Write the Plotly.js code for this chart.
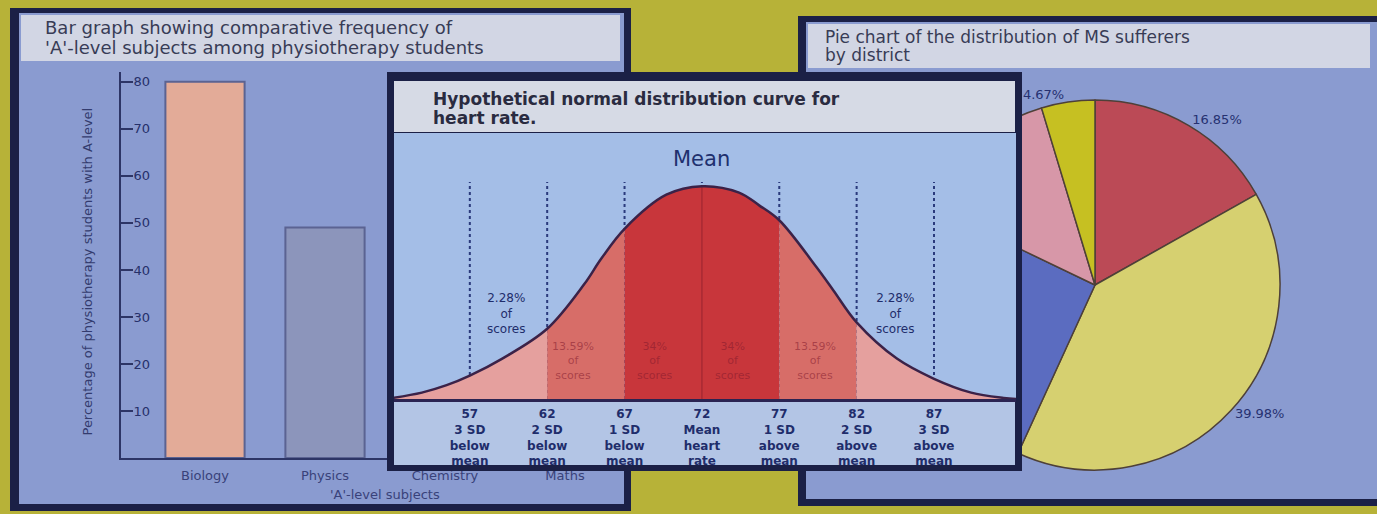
<!DOCTYPE html>
<html>
<head>
<meta charset="utf-8">
<script src="https://cdn.plot.ly/plotly-3.0.1.min.js"></script>
<style>
  html, body { margin: 0; padding: 0; background: #b7b238; width: 1377px; height: 514px; overflow: hidden; }
  #main { position: absolute; left: 0; top: 0; width: 1377px; height: 514px; }
  #normal { position: absolute; left: 387px; top: 72px; width: 635px; height: 399px; z-index: 5; }
</style>
</head>
<body>
<div id="main"></div>
<div id="normal"></div>
<script>
// ---------------- DATA ----------------
// Bar chart: A-level subjects among physiotherapy students
const subjects = ['Biology', 'Physics', 'Chemistry', 'Maths'];
const subjectPct = [80, 49, 44, 37];
const barTickVals = [10, 20, 30, 40, 50, 60, 70, 80];

// Pie chart: distribution of MS sufferers by district
const districts = ['District A', 'District B', 'District C', 'District D', 'District E'];
const districtPct = [16.85, 39.98, 25.30, 13.20, 4.67];

// Normal distribution of heart rate (peak = 100)
const curveX = [52, 53.9, 55.5, 57, 59.1, 62, 64.4, 65.5, 67, 69.7, 72, 74.4, 75.7, 77, 79.4, 80.5, 82, 84.6, 87, 89.4, 91.5, 92.3];
const curveY = [0.5, 3, 6.5, 11, 19, 33, 54, 66, 80, 96, 100, 97, 91, 84, 62, 51, 36, 19, 9.5, 3, 0.5, 0];
const sdVals = [57, 62, 67, 72, 77, 82, 87];
const sdDesc = ['3 SD<br>below<br>mean', '2 SD<br>below<br>mean', '1 SD<br>below<br>mean', 'Mean<br>heart<br>rate',
                '1 SD<br>above<br>mean', '2 SD<br>above<br>mean', '3 SD<br>above<br>mean'];
const bandEdges = [52, 62, 67, 77, 82, 92.3];
const bandLabels = ['13.59%<br>of<br>scores', '34%<br>of<br>scores', '34%<br>of<br>scores', '13.59%<br>of<br>scores'];
const bandLabelX = [63.7, 69.0, 74.0, 79.3];
const tailLabels = ['2.28%<br>of<br>scores', '2.28%<br>of<br>scores'];
const tailLabelX = [59.4, 84.5];

// Panel titles (one entry per printed line)
const barTitle = ['Bar graph showing comparative frequency of', '\'A\'-level subjects among physiotherapy students'];
const normalTitle = ['Hypothetical normal distribution curve for', 'heart rate.'];
const pieTitle = ['Pie chart of the distribution of MS sufferers', 'by district'];

// ---------------- STYLE ----------------
const FONT = 'DejaVu Sans, Arial, sans-serif';
const NAVY = '#26306a';
const FRAME = '#1b2046';
const PANEL = '#8a9bd0';
const STRIP = '#d2d6e4';

// ---------- MAIN (bar + pie panels) ----------
const W1 = 1377, H1 = 514;
const fx = x => x / W1, fy = y => 1 - y / H1;
function rect(x0, y0, x1, y1, color) {
  return {type: 'rect', xref: 'paper', yref: 'paper', x0: fx(x0), x1: fx(x1), y0: fy(y1), y1: fy(y0),
          fillcolor: color, line: {width: 0}, layer: 'below'};
}
function titleLine(text, x, y, size, conv, color, bold) {
  return {xref: 'paper', yref: 'paper', x: conv[0](x), y: conv[1](y), xanchor: 'left', yanchor: 'middle',
          showarrow: false, text: text,
          font: {family: FONT, size: size, color: color || '#383c56', weight: bold ? 'bold' : 'normal'}};
}

const barTrace = {
  type: 'bar', x: subjects, y: subjectPct, width: 0.66,
  marker: {color: ['#e3ab98', '#8c95bb', '#9aa3c6', '#a0a8cc'], line: {color: '#5b6392', width: 2}},
  hoverinfo: 'x+y', showlegend: false
};

const pieTrace = {
  type: 'pie', values: districtPct, labels: districts, sort: false, direction: 'clockwise', rotation: 0,
  domain: {x: [fx(910), fx(1280)], y: [fy(470), fy(100)]},
  marker: {colors: ['#bb4a56', '#d6d070', '#5b6cc0', '#d797a8', '#c6c022'], line: {color: '#4e4038', width: 1.5}},
  textposition: 'outside', texttemplate: '%{value:.2f}%',
  outsidetextfont: {family: FONT, size: 13, color: '#263170'},
  showlegend: false, hoverinfo: 'label+percent'
};

const conv1 = [fx, fy];
const mainLayout = {
  width: W1, height: H1, margin: {l: 0, r: 0, t: 0, b: 0},
  paper_bgcolor: '#b7b238', plot_bgcolor: 'rgba(0,0,0,0)', showlegend: false,
  xaxis: {domain: [fx(121), fx(625)], range: [-0.7, 3.5], type: 'category', showgrid: false, zeroline: false,
          showline: true, linecolor: '#2d3566', linewidth: 2, ticks: 'outside', ticklen: 4, tickcolor: 'rgba(0,0,0,0)',
          tickfont: {family: FONT, size: 13, color: '#39427a'}, fixedrange: true},
  yaxis: {domain: [fy(458), fy(72)], range: [0, 82.1], showgrid: false, zeroline: false,
          showline: true, linecolor: '#2d3566', linewidth: 2, ticks: 'inside', ticklen: 12, tickwidth: 2,
          tickcolor: '#2d3566', tickvals: barTickVals, ticklabelposition: 'inside',
          tickfont: {family: FONT, size: 13, color: NAVY}, fixedrange: true},
  shapes: [
    rect(10, 8, 631, 511, FRAME),
    rect(19, 13, 624, 504, PANEL),
    rect(21, 15, 620, 61, STRIP),
    rect(798, 16, 1377, 506, FRAME),
    rect(806, 22, 1377, 499, PANEL),
    rect(808, 24, 1370, 68, STRIP)
  ],
  annotations: [
    titleLine(barTitle[0], 43, 27, 18, conv1),
    titleLine(barTitle[1], 43, 47, 18, conv1),
    titleLine(pieTitle[0], 823, 37, 17, conv1),
    titleLine(pieTitle[1], 823, 55, 17, conv1),
    {xref: 'paper', yref: 'paper', x: fx(77), y: fy(272), textangle: -90, showarrow: false,
     text: 'Percentage of physiotherapy students with A-level',
     font: {family: FONT, size: 13, color: '#333b6e'}},
    {xref: 'paper', yref: 'paper', x: fx(328), y: fy(494), yanchor: 'middle', showarrow: false,
     text: '\'A\'-level subjects', font: {family: FONT, size: 13, color: '#39427a'}}
  ]
};

Plotly.newPlot('main', [barTrace, pieTrace], mainLayout, {staticPlot: true, displayModeBar: false});

// ---------- NORMAL CURVE PANEL (overlapping) ----------
// plot area inside this panel: x 7..629, y 61..327 (local pixels)
const W2 = 635, H2 = 399;
const PL = 7, PR = 629, PT = 61, PB = 327;
const gx = x => (x - PL) / (PR - PL), gy = y => 1 - (y - PT) / (PB - PT);
function rect2(x0, y0, x1, y1, color) {
  return {type: 'rect', xref: 'paper', yref: 'paper', x0: gx(x0), x1: gx(x1), y0: gy(y1), y1: gy(y0),
          fillcolor: color, line: {width: 0}, layer: 'below'};
}

const dotX = [], dotY = [];
sdVals.forEach(v => { dotX.push(v, v, null); dotY.push(0, 102, null); });
const traces2 = [{
  type: 'scatter', mode: 'lines', x: dotX, y: dotY,
  line: {color: '#2a3a7c', width: 2, dash: 'dot'}, hoverinfo: 'skip', showlegend: false
}];

const bandColors = ['#e5a09e', '#d76d68', '#c8363b', '#d76d68', '#e5a09e'];
for (let i = 0; i < bandEdges.length - 1; i++) {
  const a = bandEdges[i], b = bandEdges[i + 1];
  const bx = [], by = [];
  curveX.forEach((x, k) => { if (x >= a && x <= b) { bx.push(x); by.push(curveY[k]); } });
  traces2.push({type: 'scatter', mode: 'lines', x: bx, y: by, fill: 'tozeroy', fillcolor: bandColors[i],
                line: {width: 0, shape: 'spline'}, hoverinfo: 'skip', showlegend: false});
}
const meanIdx = curveX.indexOf(sdVals[3]);
traces2.push({type: 'scatter', mode: 'lines', x: [sdVals[3], sdVals[3]], y: [0, curveY[meanIdx]],
              line: {color: '#a82a33', width: 1.5}, hoverinfo: 'skip', showlegend: false});
traces2.push({type: 'scatter', mode: 'lines', x: curveX, y: curveY,
              line: {color: '#3b2248', width: 2.5, shape: 'spline'}, hoverinfo: 'x+y', showlegend: false});

const conv2 = [gx, gy];
const ann2 = [
  titleLine(normalTitle[0], 44, 27, 17, conv2, '#2a2b40', true),
  titleLine(normalTitle[1], 44, 46, 17, conv2, '#2a2b40', true),
  {x: sdVals[3], y: 113, xref: 'x', yref: 'y', showarrow: false, text: 'Mean',
   font: {family: FONT, size: 21, color: '#20306e'}}
];
tailLabels.forEach((t, i) => ann2.push({x: tailLabelX[i], y: 40, xref: 'x', yref: 'y', showarrow: false, text: t,
  font: {family: FONT, size: 12, color: '#1f2d6b'}}));
bandLabels.forEach((t, i) => ann2.push({x: bandLabelX[i], y: 18, xref: 'x', yref: 'y', showarrow: false, text: t,
  font: {family: FONT, size: 11, color: 'rgba(130,25,45,0.55)'}}));

const layout2 = {
  width: W2, height: H2, margin: {l: PL, r: W2 - PR, t: PT, b: H2 - PB},
  paper_bgcolor: FRAME, plot_bgcolor: '#a4bee7', showlegend: false,
  xaxis: {range: [52.1, 92.3], showgrid: false, zeroline: false, showline: true, linecolor: '#2b2452', linewidth: 3,
          tickvals: sdVals, ticktext: sdVals.map((v, i) => v + '<br>' + sdDesc[i]),
          ticks: 'outside', ticklen: 2, tickcolor: 'rgba(0,0,0,0)',
          tickfont: {family: FONT, size: 12, color: '#1f2d6b', weight: 'bold'}, fixedrange: true},
  yaxis: {range: [0, 125], visible: false, fixedrange: true},
  shapes: [
    rect2(7, 9, 628, 60, '#d6dae5'),
    rect2(7, 329, 628, 393, '#b3c5e5')
  ],
  annotations: ann2
};

Plotly.newPlot('normal', traces2, layout2, {staticPlot: true, displayModeBar: false});
</script>
</body>
</html>
